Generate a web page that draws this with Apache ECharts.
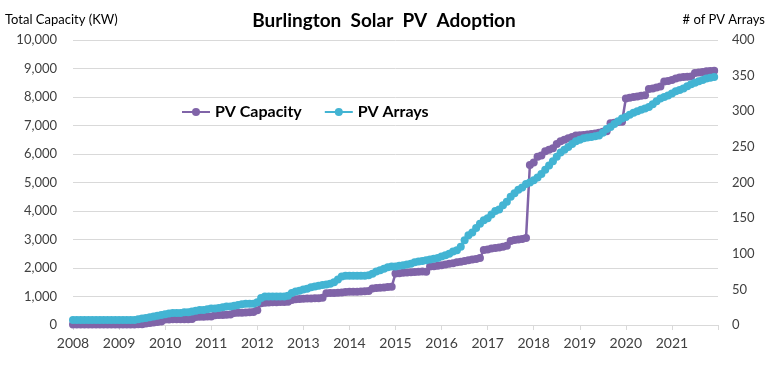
<!DOCTYPE html>
<html>
<head>
<meta charset="utf-8">
<script src="https://cdn.jsdelivr.net/npm/echarts@6/dist/echarts.min.js"></script>
<style>
html,body{margin:0;padding:0;background:#fff;}
#chart{width:768px;height:384px;}
</style>
</head>
<body>
<div id="chart"></div>
<script>
// Monthly values, Jan 2008 .. Dec 2021
const startYear = 2008;
const yearTicks = [2008,2009,2010,2011,2012,2013,2014,2015,2016,2017,2018,2019,2020,2021];
const capacityKW = [
  15,15,15,15,15,15,20,20,20,20,20,20,
  20,20,20,20,20,25,30,50,70,90,105,120,
  190,195,200,200,200,205,205,210,280,290,290,295,
  300,340,350,355,360,370,420,430,430,440,450,460,
  520,760,780,790,800,800,810,810,820,880,900,910,
  920,930,930,935,940,960,1110,1120,1120,1130,1140,1160,
  1165,1170,1170,1175,1180,1190,1280,1300,1310,1320,1330,1340,
  1810,1820,1830,1840,1850,1860,1870,1880,1870,2050,2060,2080,
  2100,2120,2150,2170,2200,2220,2250,2270,2300,2320,2350,2630,
  2650,2680,2700,2720,2750,2780,2950,2980,3000,3020,3050,5610,
  5700,5900,5950,6100,6150,6200,6350,6450,6500,6550,6600,6650,
  6660,6670,6680,6700,6720,6750,6780,6800,7080,7100,7120,7130,
  7950,7970,8000,8020,8040,8060,8280,8300,8330,8370,8540,8560,
  8600,8650,8680,8700,8710,8720,8840,8860,8880,8900,8910,8920
];
const pvArrays = [
  7,7,7,7,7,7,7,7,7,7,7,7,
  7,7,7,7,7,8,9,10,11,12,13,14,
  15,16,17,17,17,18,18,19,20,21,21,22,
  23,23,24,25,26,26,27,28,29,30,30,30,
  32,38,40,40,40,40,40,40,41,45,47,48,
  50,51,53,54,55,56,57,58,60,64,68,69,
  69,69,69,69,69,70,72,75,77,79,81,82,
  82,83,84,85,86,88,89,90,91,92,93,94,
  96,98,100,103,105,110,119,126,130,136,142,147,
  150,155,160,162,168,173,180,185,190,193,198,200,
  203,207,212,218,224,230,236,242,246,250,254,258,
  260,262,263,264,265,266,270,275,278,282,286,290,
  292,295,298,300,302,304,306,310,314,318,320,322,
  325,328,330,332,335,338,340,342,344,346,347,348
];
const seriesNames = ['PV Capacity','PV Arrays'];

const toPairs = arr => arr.map((v,i)=>[startYear + i/12, v]);
const FONT = 'Lato, "Open Sans", sans-serif';
const PURPLE = '#8064A8';
const CYAN = '#43B4D3';

const chart = echarts.init(document.getElementById('chart'), null, {renderer:'canvas'});
chart.setOption({
  animation:false,
  backgroundColor:'#fff',
  title:{
    text:'Burlington  Solar  PV  Adoption',
    left:'center', top:6,
    textStyle:{fontFamily:FONT, fontSize:19, fontWeight:'bold', color:'#000'}
  },
  legend:{
    data:seriesNames,
    left:176, top:99,
    itemWidth:28, itemHeight:10, itemGap:22,
    textStyle:{fontFamily:FONT, fontSize:16, fontWeight:'bold', color:'#000'}
  },
  grid:{left:73, right:50, top:40, bottom:59},
  xAxis:{
    type:'value', min:2008, max:2022, interval:1,
    axisLine:{show:true, lineStyle:{color:'#d9d9d9', width:1}},
    axisTick:{show:true, length:5, lineStyle:{color:'#d9d9d9'}},
    splitLine:{show:false},
    axisLabel:{
      fontFamily:FONT, fontSize:14, color:'#404040', margin:11,
      formatter:v => yearTicks.indexOf(v) >= 0 ? String(v) : ''
    }
  },
  yAxis:[
    {
      type:'value', min:0, max:10000, interval:1000,
      name:'Total Capacity (KW)', nameLocation:'end', nameGap:14,
      nameTextStyle:{fontFamily:FONT, fontSize:13, color:'#000', align:'left', padding:[0,0,0,-68]},
      axisLine:{show:false}, axisTick:{show:false},
      splitLine:{lineStyle:{color:'#d9d9d9', width:1}},
      axisLabel:{fontFamily:FONT, fontSize:13, color:'#404040', margin:16,
        formatter:v => v.toLocaleString('en-US')}
    },
    {
      type:'value', min:0, max:400, interval:50,
      name:'# of PV Arrays', nameLocation:'end', nameGap:14,
      nameTextStyle:{fontFamily:FONT, fontSize:13, color:'#000', align:'right', padding:[0,-47,0,0]},
      axisLine:{show:false}, axisTick:{show:false},
      splitLine:{show:false},
      axisLabel:{fontFamily:FONT, fontSize:13, color:'#404040', margin:14}
    }
  ],
  series:[
    {
      name:seriesNames[0], type:'line', yAxisIndex:0,
      data:toPairs(capacityKW),
      symbol:'circle', symbolSize:8,
      itemStyle:{color:PURPLE},
      lineStyle:{color:PURPLE, width:2.5}
    },
    {
      name:seriesNames[1], type:'line', yAxisIndex:1,
      data:toPairs(pvArrays),
      symbol:'circle', symbolSize:8,
      itemStyle:{color:CYAN},
      lineStyle:{color:CYAN, width:2.5}
    }
  ]
});
</script>
</body>
</html>
